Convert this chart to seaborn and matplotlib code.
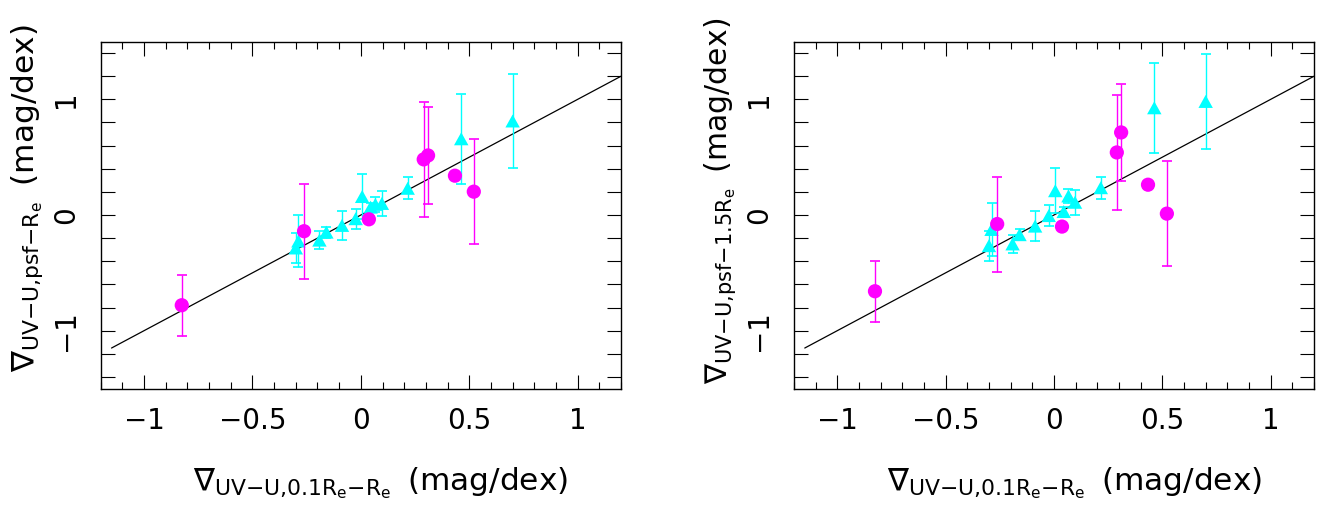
import numpy as np
import pandas as pd
import matplotlib
matplotlib.use("Agg")
import matplotlib.pyplot as plt
from matplotlib.ticker import MultipleLocator
import seaborn as sns

# Gradients measured within 0.1Re-Re (x) against the psf-based estimates (y)
x_circ = [-0.826, -0.262, 0.037, 0.290, 0.310, 0.434, 0.521]
err_circ = [0.264, 0.411, 0.0, 0.499, 0.418, 0.0, 0.453]
y_circ_re = [-0.780, -0.140, -0.037, 0.481, 0.515, 0.340, 0.202]
y_circ_15re = [-0.659, -0.078, -0.100, 0.541, 0.714, 0.262, 0.012]

x_tri = [-0.300, -0.288, -0.191, -0.159, -0.087, -0.024, 0.006,
         0.045, 0.067, 0.097, 0.216, 0.463, 0.700]
err_tri = [0.130, 0.225, 0.078, 0.047, 0.127, 0.088, 0.195,
           0.040, 0.062, 0.108, 0.094, 0.390, 0.410]
y_tri_re = [-0.285, -0.225, -0.217, -0.148, -0.090, -0.032, 0.160,
            0.068, 0.092, 0.100, 0.231, 0.659, 0.813]
y_tri_15re = [-0.265, -0.125, -0.250, -0.170, -0.096, -0.005, 0.210,
              0.030, 0.165, 0.110, 0.236, 0.927, 0.982]

# one-to-one relation
line_x = [-1.15, 1.2]

M = "{\u2212}"
xlabel = r"$\nabla_{\mathrm{UV" + M + r"U{,}0.1R_e" + M + r"R_e}}$" + "\u2002(mag/dex)"
ylabel_re = r"$\nabla_{\mathrm{UV" + M + r"U{,}psf" + M + r"R_e}}$" + "\u2002(mag/dex)"
ylabel_15re = r"$\nabla_{\mathrm{UV" + M + r"U{,}psf" + M + r"1.5R_e}}$" + "\u2002(mag/dex)"

MAGENTA = "#ff00ff"
CYAN = "#00ffff"

sns.set_theme(style="white")
plt.rcParams["font.family"] = ["DejaVu Sans"]
plt.rcParams["mathtext.fontset"] = "dejavusans"
plt.rcParams["axes.unicode_minus"] = True

TICK_FS = 20
LABEL_FS = 22.5
tri_marker = [(-1.0, -0.9), (1.0, -0.9), (0.0, 0.9), (-1.0, -0.9)]

fig = plt.figure(figsize=(13.23, 5.07), dpi=100)
ax_l = fig.add_axes([0.0761, 0.2337, 0.3933, 0.6844])
ax_r = fig.add_axes([0.6001, 0.2337, 0.3931, 0.6844])


def draw_panel(ax, y_tri, y_circ, ylabel, ylabel_fs, ylabel_start):
    sns.lineplot(x=line_x, y=line_x, color="black", linewidth=0.9, ax=ax,
                 zorder=1)

    ax.errorbar(x_tri, y_tri, yerr=err_tri, fmt="none", ecolor=CYAN,
                elinewidth=1.0, capsize=3.6, capthick=1.2, zorder=2)
    df_t = pd.DataFrame({"x": x_tri, "y": y_tri})
    sns.scatterplot(data=df_t, x="x", y="y", marker=tri_marker, s=108,
                    color=CYAN, edgecolor="none", linewidth=0, ax=ax,
                    zorder=3, legend=False)

    xc = np.array(x_circ)
    yc = np.array(y_circ)
    ec = np.array(err_circ)
    has_err = ec > 0
    ax.errorbar(xc[has_err], yc[has_err], yerr=ec[has_err], fmt="none",
                ecolor=MAGENTA, elinewidth=1.0, capsize=3.6, capthick=1.2,
                zorder=4)
    df_c = pd.DataFrame({"x": x_circ, "y": y_circ})
    sns.scatterplot(data=df_c, x="x", y="y", marker="o", s=105,
                    color=MAGENTA, edgecolor="none", linewidth=0, ax=ax,
                    zorder=5, legend=False)

    ax.set_xlim(-1.2, 1.2)
    ax.set_ylim(-1.5, 1.5)
    ax.xaxis.set_major_locator(MultipleLocator(0.5))
    ax.xaxis.set_minor_locator(MultipleLocator(0.1))
    ax.yaxis.set_major_locator(MultipleLocator(1))
    ax.yaxis.set_minor_locator(MultipleLocator(0.2))
    ax.xaxis.set_major_formatter(plt.FuncFormatter(
        lambda v, p: ("%g" % v).replace("-", "\u2212")))
    ax.yaxis.set_major_formatter(plt.FuncFormatter(
        lambda v, p: ("%g" % v).replace("-", "\u2212")))

    for s in ax.spines.values():
        s.set_linewidth(1.0)
        s.set_color("black")
        s.set_visible(True)
    ax.tick_params(which="both", direction="in", top=True, right=True,
                   bottom=True, left=True, width=0.8, color="black",
                   labelsize=TICK_FS, labelcolor="black")
    ax.tick_params(axis="x", which="major", length=10, pad=13)
    ax.tick_params(axis="x", which="minor", length=5)
    ax.tick_params(axis="y", which="both", length=10, pad=15)
    for lab in ax.get_yticklabels():
        lab.set_rotation(90)
        lab.set_va("center")
        lab.set_ha("right")

    # labels start at a fixed point and run along the axis
    ax.set_xlabel(xlabel, fontsize=LABEL_FS, labelpad=22, color="black",
                  ha="left")
    ax.xaxis.label.set_x(0.178)
    ax.set_ylabel(ylabel, fontsize=ylabel_fs, labelpad=5, color="black",
                  ha="left")
    ax.yaxis.label.set_y(ylabel_start)
    ax.set_facecolor("white")


draw_panel(ax_l, y_tri_re, y_circ_re, ylabel_re, LABEL_FS, 0.048)
draw_panel(ax_r, y_tri_15re, y_circ_15re, ylabel_15re, 21.5, 0.012)

fig.savefig("out.png", dpi=100, facecolor="white")
